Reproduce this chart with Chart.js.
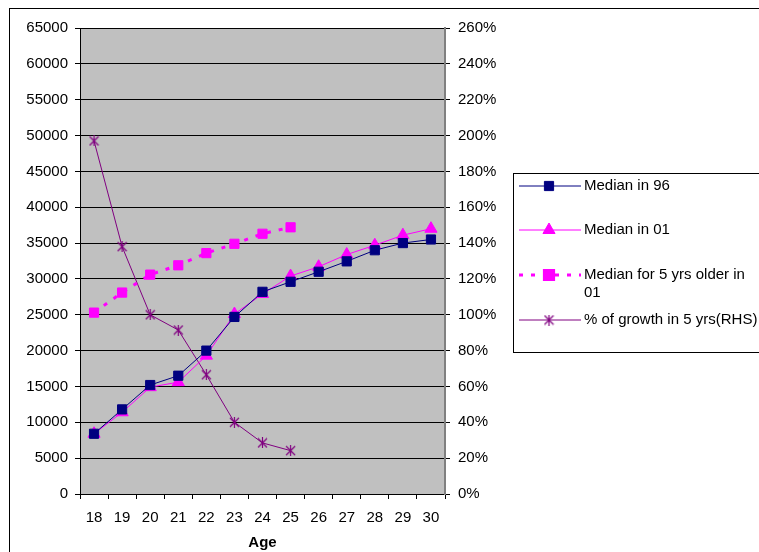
<!DOCTYPE html>
<html>
<head>
<meta charset="utf-8">
<script src="https://cdn.jsdelivr.net/npm/chart.js@4.4.1/dist/chart.umd.min.js"></script>
<style>
  body { margin: 0; background: #fff; }
  canvas { display: block; }
</style>
</head>
<body>
<canvas id="chart" width="759" height="552"></canvas>
<script>
const ages = ["18", "19", "20", "21", "22", "23", "24", "25", "26", "27", "28", "29", "30"];

const median_96 = [8400, 11800, 15200, 16500, 20000, 24700, 28200, 29600, 31000, 32450, 34000, 35000, 35500];
const median_01 = [8400, 11400, 14900, 15600, 19300, 25100, 27900, 30400, 31700, 33400, 34700, 36100, 37000];
const median_older_01 = [25300, 28100, 30600, 31900, 33600, 34900, 36300, 37200, null, null, null, null, null];
const growth_pct = [197, 138, 100, 91.5, 66.5, 40, 28.5, 24.2, null, null, null, null, null];

const left_ticks = { min: 0, max: 65000, step: 5000 };
const right_ticks = { min: 0, max: 260, step: 20 };

const FONT = "'Liberation Sans', Arial, sans-serif";

// excel style asterisk marker: vertical bar plus an X
function asterisk(color) {
  const c = document.createElement("canvas");
  c.width = 11;
  c.height = 11;
  const g = c.getContext("2d");
  g.strokeStyle = color;
  g.lineWidth = 1.2;
  g.beginPath();
  g.moveTo(5.5, 0);
  g.lineTo(5.5, 11);
  g.moveTo(1, 1);
  g.lineTo(10, 10);
  g.moveTo(10, 1);
  g.lineTo(1, 10);
  g.stroke();
  return c;
}

const star = asterisk("#800080");

const frame = {
  id: "frame",
  beforeDraw(chart) {
    const { ctx, chartArea: a } = chart;
    ctx.save();
    ctx.fillStyle = "#C0C0C0";
    ctx.fillRect(a.left, a.top, a.right - a.left, a.bottom - a.top);
    ctx.restore();
  },
  afterDraw(chart) {
    const ctx = chart.ctx;
    ctx.save();
    ctx.strokeStyle = "#000";
    ctx.lineWidth = 1;
    ctx.strokeRect(9.5, 8.5, 800, 600);

    // legend box
    ctx.strokeRect(513.5, 173.5, 300, 179);
    const rows = [186, 230, 275, 320];
    chart.data.datasets.forEach((ds, i) => {
      const y = rows[i];
      ctx.save();
      ctx.strokeStyle = ds.borderColor;
      ctx.lineWidth = ds.borderWidth;
      ctx.setLineDash(ds.borderDash || []);
      ctx.beginPath();
      ctx.moveTo(519, y);
      ctx.lineTo(581, y);
      ctx.stroke();
      ctx.setLineDash([]);
      ctx.fillStyle = ds.backgroundColor;
      ctx.strokeStyle = ds.borderColor;
      Chart.helpers.drawPoint(ctx, {
        pointStyle: ds.pointStyle,
        radius: ds.pointRadius,
        borderWidth: 1,
        rotation: 0,
      }, 549, y);
      ctx.restore();
    });
    ctx.fillStyle = "#000";
    ctx.font = "15px " + FONT;
    ctx.textBaseline = "middle";
    ctx.fillText("Median in 96", 584, 186);
    ctx.fillText("Median in 01", 584, 230);
    ctx.fillText("Median for 5 yrs older in", 584, 275);
    ctx.fillText("01", 584, 293);
    ctx.fillText("% of growth in 5 yrs(RHS)", 584, 320);
    ctx.restore();
  },
};

new Chart(document.getElementById("chart"), {
  type: "line",
  data: {
    labels: ages,
    datasets: [
      {
        label: "Median in 96",
        data: median_96,
        yAxisID: "y",
        borderColor: "#000080",
        backgroundColor: "#000080",
        borderWidth: 1,
        pointStyle: "rect",
        pointRadius: 6.5,
      },
      {
        label: "Median in 01",
        data: median_01,
        yAxisID: "y",
        borderColor: "#FF00FF",
        backgroundColor: "#FF00FF",
        borderWidth: 1,
        pointStyle: "triangle",
        pointRadius: 7,
      },
      {
        label: "Median for 5 yrs older in 01",
        data: median_older_01,
        yAxisID: "y",
        borderColor: "#FF00FF",
        backgroundColor: "#FF00FF",
        borderWidth: 3,
        borderDash: [4, 8],
        pointStyle: "rect",
        pointRadius: 6.5,
        pointBorderWidth: 1,
      },
      {
        label: "% of growth in 5 yrs(RHS)",
        data: growth_pct,
        yAxisID: "y2",
        borderColor: "#800080",
        backgroundColor: "#800080",
        borderWidth: 1,
        pointStyle: star,
        pointRadius: 6,
      },
    ],
  },
  options: {
    responsive: false,
    animation: false,
    layout: { padding: { top: 28, left: 0, right: 0, bottom: 0 } },
    plugins: {
      legend: { display: false },
      tooltip: { enabled: false },
    },
    scales: {
      x: {
        offset: true,
        grid: {
          display: true,
          drawOnChartArea: false,
          offset: true,
          color: "#000",
          tickLength: 5,
        },
        border: { color: "#000" },
        ticks: { color: "#000", font: { family: FONT, size: 15 }, padding: 10, maxRotation: 0 },
        title: {
          display: true,
          text: "Age",
          color: "#000",
          font: { family: FONT, size: 15, weight: "bold" },
          padding: { top: 3, bottom: 0 },
        },
        afterFit(scale) {
          scale.height = 58;
        },
      },
      y: {
        position: "left",
        min: left_ticks.min,
        max: left_ticks.max,
        grid: { color: "#000", tickLength: 5 },
        border: { color: "#000" },
        ticks: {
          stepSize: left_ticks.step,
          color: "#000",
          font: { family: FONT, size: 15 },
          padding: 7,
          callback: (v) => String(v),
        },
        afterFit(scale) {
          scale.width = 80;
        },
      },
      y2: {
        position: "right",
        min: right_ticks.min,
        max: right_ticks.max,
        grid: { drawOnChartArea: false, color: "#000", tickLength: 5 },
        border: { color: "#808080", width: 2 },
        ticks: {
          stepSize: right_ticks.step,
          color: "#000",
          font: { family: FONT, size: 15 },
          padding: 8,
          callback: (v) => v + "%",
        },
        afterFit(scale) {
          scale.width = 759 - 445;
        },
      },
    },
  },
  plugins: [frame],
});
</script>
</body>
</html>
